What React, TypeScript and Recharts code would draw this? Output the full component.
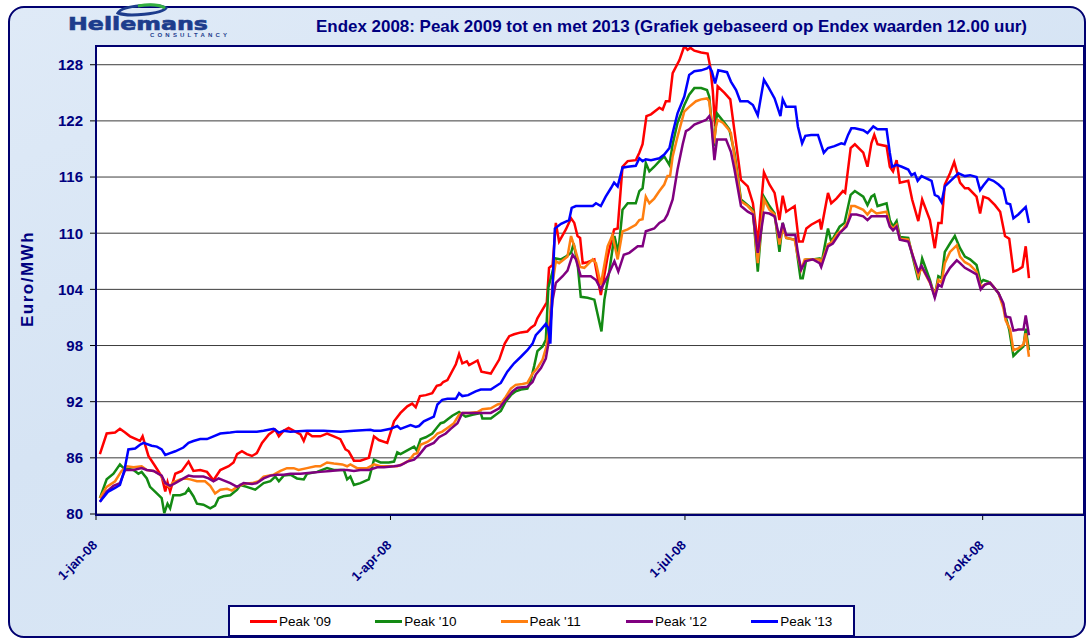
import React from "react";
import { LineChart, Line, XAxis, YAxis, CartesianGrid } from "recharts";

type Pt = [number, number];

// x = day of year 2008 (0 = 1 jan), y = Euro/MWh
const peak09: Pt[] = [[1.2,86.4],[3.3,88.6],[5.9,88.7],[7.4,89.1],[9.0,88.7],[10.5,88.3],[13.6,87.8],[14.4,88.3],[16.2,86.2],[18.3,85.1],[20.3,84.0],[21.4,82.4],[22.1,83.4],[22.9,82.4],[24.5,84.3],[26.5,84.6],[28.6,85.6],[30.1,84.6],[32.2,84.7],[34.3,84.5],[36.3,83.6],[38.4,84.7],[41.0,85.1],[42.5,85.5],[43.6,86.4],[45.1,86.7],[46.6,86.4],[48.2,86.2],[49.7,86.5],[51.3,87.6],[53.4,88.5],[55.4,89.0],[56.5,88.3],[58.0,88.9],[59.5,89.2],[61.6,88.8],[63.2,88.5],[64.2,87.8],[65.2,88.7],[66.8,88.3],[69.3,88.3],[71.4,88.6],[73.5,88.3],[75.5,88.0],[77.1,86.9],[78.1,86.7],[79.7,85.7],[81.7,85.7],[84.3,86.0],[85.9,88.3],[87.4,87.9],[90.0,87.6],[92.1,89.9],[94.1,90.8],[96.2,91.5],[97.7,91.8],[98.8,91.4],[100.1,92.6],[101.9,92.7],[103.9,92.9],[105.3,93.7],[106.5,93.8],[107.3,94.1],[108.6,94.3],[111.2,96.0],[112.2,97.1],[113.2,96.1],[114.6,96.3],[115.3,95.9],[117.9,96.4],[119.1,95.2],[122.0,95.0],[124.6,96.5],[126.3,98.2],[127.7,99.0],[129.2,99.2],[131.3,99.4],[133.3,99.5],[134.4,99.9],[135.6,100.2],[136.4,100.9],[139.3,102.6],[140.0,106.3],[141.1,106.6],[142.1,111.1],[143.1,109.1],[145.2,110.4],[146.8,111.6],[147.8,111.1],[148.8,109.7],[149.6,109.5],[150.4,106.8],[151.9,106.9],[154.0,107.2],[156.0,103.4],[158.1,107.5],[160.1,110.4],[161.2,110.5],[162.7,117.1],[164.3,117.7],[166.8,117.8],[167.9,118.6],[168.9,119.5],[170.1,122.5],[171.5,122.7],[174.1,123.4],[175.1,123.2],[176.1,124.1],[177.2,124.1],[178.2,127.1],[180.3,128.5],[181.8,130.0],[182.8,129.6],[183.7,129.8],[184.9,129.5],[187.0,129.3],[189.0,129.2],[189.8,127.8],[190.6,125.2],[191.3,121.4],[192.1,125.7],[194.2,125.0],[196.0,124.3],[197.3,120.9],[199.3,115.7],[201.4,115.0],[203.0,113.2],[204.5,108.9],[206.4,116.5],[208.1,115.2],[209.7,114.3],[211.2,111.4],[212.2,114.0],[213.3,112.3],[215.9,112.9],[217.2,109.1],[218.4,109.1],[219.5,110.5],[221.0,110.9],[223.6,111.4],[224.1,110.4],[226.2,114.3],[227.2,113.2],[228.8,113.7],[230.8,114.5],[231.5,114.3],[233.2,119.1],[234.5,119.5],[237.1,118.6],[238.4,117.1],[239.6,119.6],[240.5,120.5],[241.5,119.5],[244.3,119.3],[245.3,117.1],[246.3,116.6],[247.4,117.8],[248.4,115.4],[251.0,115.6],[252.2,113.6],[254.1,111.3],[255.3,113.6],[257.7,111.4],[259.2,108.4],[260.3,111.1],[261.3,111.1],[262.3,115.2],[263.9,116.4],[265.2,117.6],[267.0,115.4],[268.5,114.8],[269.6,114.8],[272.1,113.9],[273.2,112.1],[274.2,113.9],[275.8,113.7],[277.8,113.0],[279.4,112.3],[280.9,109.7],[282.2,109.4],[283.5,105.9],[285.0,106.1],[286.3,106.4],[287.3,108.6],[288.3,105.2]];

const peak10: Pt[] = [[1.2,81.7],[3.3,83.7],[5.4,84.3],[7.4,85.3],[8.5,84.9],[10.0,84.8],[11.6,84.7],[13.1,84.3],[14.1,84.5],[15.7,83.8],[16.7,82.9],[18.8,82.2],[20.3,81.7],[21.1,80.1],[22.1,81.1],[22.9,80.6],[23.9,82.0],[26.0,82.0],[27.6,82.2],[28.6,82.7],[30.1,81.9],[31.2,81.1],[33.2,81.0],[35.3,80.6],[36.8,80.9],[37.9,81.7],[39.4,81.9],[41.5,82.0],[43.6,82.6],[44.6,83.1],[46.6,82.9],[49.2,82.6],[51.8,83.3],[53.9,83.5],[55.4,84.0],[56.5,83.5],[58.0,84.1],[60.1,84.2],[62.1,83.8],[64.2,83.7],[65.2,84.3],[68.3,84.5],[71.4,84.9],[73.5,84.7],[76.6,84.7],[77.6,83.7],[78.6,84.0],[79.7,83.1],[81.7,83.3],[84.3,83.7],[85.9,85.8],[87.9,85.5],[90.5,85.5],[92.1,85.6],[93.1,86.6],[94.1,86.4],[96.2,86.8],[98.3,87.2],[99.1,86.8],[100.3,88.0],[101.9,88.2],[103.9,88.6],[105.5,89.3],[106.5,89.7],[107.5,89.8],[108.6,90.1],[110.1,90.5],[112.2,90.9],[114.2,90.4],[116.3,90.6],[118.9,90.8],[119.4,90.2],[122.0,90.2],[125.1,91.0],[126.6,92.0],[128.2,92.7],[129.7,93.1],[131.3,93.3],[133.3,93.4],[134.2,94.1],[135.4,95.8],[136.4,97.4],[138.0,97.9],[139.0,98.6],[139.8,104.2],[142.1,107.3],[143.7,107.2],[145.2,107.5],[146.8,107.9],[147.6,108.9],[148.8,106.8],[149.8,103.2],[151.9,103.1],[154.0,102.9],[156.2,99.5],[157.1,102.9],[158.6,105.9],[160.2,109.7],[161.4,107.9],[162.7,112.5],[164.3,113.2],[166.8,113.2],[167.9,114.5],[168.9,114.8],[169.9,117.5],[171.0,116.6],[172.5,117.1],[174.1,117.7],[175.6,118.2],[177.2,117.3],[178.2,119.5],[179.7,121.8],[181.8,123.7],[183.3,124.8],[184.9,125.5],[187.0,125.5],[188.8,125.3],[189.5,124.6],[190.9,119.3],[191.9,122.8],[194.2,121.8],[195.7,121.1],[197.3,118.6],[199.3,113.6],[201.4,113.0],[203.0,112.5],[204.5,105.9],[206.4,113.9],[208.1,112.9],[209.7,112.1],[211.2,108.0],[212.2,111.1],[213.3,109.5],[216.1,109.3],[216.9,107.2],[217.7,105.2],[218.4,105.2],[219.5,107.2],[221.5,107.2],[223.6,107.3],[224.1,106.6],[226.2,110.5],[227.2,109.1],[229.8,110.7],[231.3,111.1],[233.2,114.1],[234.5,114.5],[237.1,113.9],[238.4,113.0],[239.6,113.9],[240.5,114.1],[241.5,112.9],[244.3,113.2],[245.3,111.4],[246.3,110.7],[247.4,111.3],[248.4,109.6],[251.0,109.5],[252.2,107.7],[254.1,105.0],[255.3,107.3],[257.7,105.0],[259.2,103.2],[260.3,105.4],[261.3,105.2],[262.3,108.0],[263.9,108.9],[265.4,109.7],[267.0,108.4],[268.5,107.5],[270.1,107.2],[272.1,106.6],[273.4,104.7],[274.2,105.0],[275.8,104.8],[277.3,104.3],[278.9,103.6],[280.4,102.3],[281.1,101.1],[282.2,99.7],[283.5,96.9],[285.0,97.4],[286.6,97.9],[287.3,99.8],[288.3,97.5]];

const peak11: Pt[] = [[1.2,81.7],[3.3,82.9],[5.9,83.5],[7.9,84.6],[9.5,85.1],[11.6,85.0],[14.1,85.1],[15.7,84.7],[17.8,84.6],[19.8,84.2],[21.4,83.3],[22.7,82.9],[23.9,83.4],[26.0,83.7],[27.6,83.8],[29.1,83.7],[31.2,83.5],[33.7,83.5],[35.3,83.0],[36.8,82.2],[38.4,82.6],[40.5,82.7],[42.0,82.5],[43.6,82.9],[45.6,83.2],[48.2,83.3],[50.3,83.5],[51.8,84.0],[54.9,84.2],[57.0,84.6],[59.0,84.9],[61.1,84.9],[62.6,84.7],[65.2,84.9],[67.8,85.1],[69.3,85.1],[71.4,85.5],[73.5,85.4],[76.1,85.3],[77.6,85.1],[78.6,85.3],[80.7,84.9],[83.8,84.9],[85.9,85.3],[87.9,85.1],[90.0,85.1],[93.1,85.1],[95.2,85.4],[96.7,85.7],[98.3,86.4],[99.3,86.5],[100.3,87.4],[102.4,87.7],[104.4,88.2],[105.5,88.6],[107.0,88.8],[108.6,89.2],[110.6,89.7],[112.2,90.6],[113.2,90.8],[115.3,90.8],[117.9,90.9],[119.4,91.2],[122.0,91.3],[124.1,91.7],[125.1,91.8],[126.6,92.5],[128.2,93.4],[129.7,93.8],[131.8,93.9],[133.3,94.0],[134.9,95.0],[136.4,95.6],[138.0,96.5],[139.2,97.9],[140.0,100.0],[141.1,104.7],[142.1,107.0],[143.1,106.8],[145.7,107.5],[146.8,109.7],[147.8,108.6],[149.6,106.4],[150.9,106.3],[153.5,107.2],[154.5,106.8],[156.0,104.5],[158.1,108.6],[159.6,109.8],[161.2,107.2],[162.7,110.2],[164.3,110.4],[166.8,110.9],[167.9,111.4],[168.9,111.5],[169.9,113.9],[171.0,113.2],[172.5,113.7],[174.1,114.5],[175.6,115.2],[176.6,116.1],[177.4,116.1],[178.2,118.2],[179.7,120.3],[181.8,123.0],[183.3,123.5],[185.4,124.1],[187.0,124.3],[188.8,124.4],[189.5,124.1],[190.9,119.6],[191.6,121.4],[192.1,122.1],[193.7,121.8],[195.2,121.2],[196.2,120.7],[197.3,118.2],[199.3,113.4],[201.4,112.9],[203.0,112.3],[204.5,106.8],[206.4,113.6],[208.1,112.5],[209.7,112.0],[211.2,108.8],[212.2,110.7],[213.3,109.5],[215.9,109.3],[216.9,107.5],[217.9,106.1],[219.0,107.2],[221.5,107.2],[223.6,107.2],[224.1,106.8],[226.2,108.8],[227.2,109.0],[229.3,110.0],[230.8,110.4],[232.4,111.3],[233.4,112.9],[234.5,112.9],[237.1,112.5],[238.4,112.0],[239.6,112.5],[241.2,112.1],[244.3,112.3],[245.3,110.9],[246.3,110.5],[247.4,110.9],[248.4,109.4],[251.0,109.3],[252.5,107.5],[254.1,105.4],[255.1,106.4],[257.7,104.7],[259.2,103.4],[260.3,105.0],[261.3,104.7],[262.3,106.8],[263.9,108.0],[266.0,108.7],[267.0,107.5],[268.5,106.9],[270.1,106.6],[272.1,105.9],[273.4,104.3],[274.7,104.5],[276.3,104.7],[278.9,103.6],[280.4,102.0],[281.1,100.7],[282.5,99.7],[283.5,97.5],[285.0,97.7],[286.6,98.1],[287.3,99.3],[288.3,96.8]];

const peak12: Pt[] = [[1.2,81.3],[3.3,82.4],[5.4,83.0],[7.4,83.3],[9.0,84.7],[11.6,84.7],[14.1,84.9],[15.7,84.7],[17.8,84.6],[20.3,84.1],[21.4,83.3],[22.9,83.0],[24.5,83.3],[26.5,83.7],[28.6,84.1],[30.1,84.0],[33.2,84.0],[34.8,83.8],[36.3,83.5],[37.9,83.8],[39.4,83.6],[41.5,83.3],[43.6,82.9],[45.6,83.3],[48.2,83.2],[49.7,83.3],[51.8,83.8],[53.9,84.1],[55.9,84.2],[58.0,84.2],[60.1,84.3],[63.2,84.3],[66.3,84.4],[69.3,84.5],[72.4,84.6],[75.5,84.7],[77.6,84.7],[79.7,84.6],[81.7,84.7],[84.3,84.7],[86.9,85.0],[89.0,85.0],[92.1,85.1],[94.1,85.2],[96.2,85.6],[98.3,85.8],[99.8,86.3],[101.9,87.2],[104.4,87.6],[106.0,88.2],[108.1,88.6],[109.6,89.1],[111.7,89.7],[113.2,90.8],[115.8,90.8],[118.9,90.8],[122.0,90.8],[124.6,91.3],[126.6,92.2],[128.7,93.1],[130.2,93.5],[133.3,93.6],[134.9,94.1],[135.9,94.9],[137.5,95.6],[139.0,96.6],[140.0,98.6],[141.1,102.9],[142.1,104.7],[144.2,105.4],[145.7,106.0],[147.3,107.7],[148.3,107.2],[149.8,105.4],[152.9,105.4],[154.5,105.0],[156.0,104.0],[158.1,105.4],[160.2,107.0],[161.4,105.9],[163.1,107.7],[164.8,107.9],[167.4,108.6],[168.9,108.6],[169.9,110.2],[172.5,110.5],[174.1,111.1],[175.6,111.4],[176.6,112.0],[178.2,113.6],[179.7,116.8],[181.3,119.5],[182.3,120.9],[183.3,121.1],[184.9,121.6],[187.0,121.9],[188.5,122.1],[189.5,122.5],[190.1,121.9],[191.1,117.8],[191.9,120.0],[194.7,120.0],[196.2,118.7],[197.3,116.8],[199.3,112.9],[201.4,112.3],[203.0,112.0],[204.5,107.9],[206.4,112.2],[208.1,112.1],[209.7,111.8],[211.2,109.5],[212.2,111.1],[213.3,109.8],[216.1,109.8],[216.9,107.9],[217.9,106.1],[219.2,107.0],[221.5,107.2],[223.6,106.8],[224.1,106.4],[226.2,108.6],[227.7,108.9],[229.8,110.0],[231.9,110.7],[233.4,112.0],[235.0,112.0],[237.1,111.8],[238.4,111.4],[239.6,111.8],[241.2,111.8],[244.3,111.8],[245.3,110.7],[246.3,110.3],[247.4,110.7],[248.4,109.3],[251.0,109.1],[252.5,107.5],[254.1,105.9],[255.1,106.5],[257.7,104.8],[259.2,103.1],[260.3,104.5],[261.3,104.3],[262.3,105.4],[263.9,106.3],[266.0,107.1],[267.0,106.8],[268.5,106.3],[270.1,106.0],[272.1,105.6],[273.4,104.0],[274.7,104.5],[276.3,104.7],[278.9,103.6],[280.4,102.5],[281.1,101.1],[282.5,101.0],[283.5,99.6],[285.0,99.7],[286.6,99.7],[287.3,101.2],[288.3,99.1]];

const peak13: Pt[] = [[1.2,81.3],[3.8,82.4],[5.9,82.8],[7.4,83.1],[8.8,84.7],[10.0,86.9],[12.1,87.0],[13.6,87.4],[14.7,87.6],[17.2,87.3],[18.8,87.2],[20.3,86.9],[21.4,86.3],[22.9,86.5],[24.5,86.7],[27.0,87.1],[28.6,87.6],[30.1,87.8],[32.2,88.0],[34.3,88.0],[36.3,88.3],[38.4,88.6],[41.5,88.7],[43.6,88.8],[46.6,88.8],[49.7,88.8],[51.8,88.9],[54.9,89.1],[56.5,88.7],[58.0,88.9],[60.1,88.8],[65.2,88.9],[70.4,88.9],[75.5,88.8],[79.7,88.9],[84.8,89.0],[85.9,88.9],[88.0,88.9],[91.0,89.1],[93.1,89.4],[94.1,89.1],[97.2,89.5],[98.8,89.3],[99.8,89.4],[101.3,89.9],[104.4,90.4],[105.5,91.7],[107.0,92.2],[108.6,92.3],[111.2,92.3],[112.2,92.9],[113.2,92.6],[115.0,92.7],[117.3,93.1],[118.9,93.3],[122.0,93.3],[125.1,94.0],[127.1,95.2],[129.2,96.1],[131.3,96.8],[133.3,97.5],[134.9,98.2],[135.9,99.1],[137.5,99.7],[139.0,100.3],[139.7,99.9],[140.4,98.2],[141.8,110.5],[143.7,111.0],[146.2,111.4],[147.0,112.7],[148.3,112.9],[153.5,112.9],[154.5,113.2],[156.0,112.9],[157.5,113.9],[159.1,114.8],[160.1,115.4],[161.2,115.0],[162.7,117.0],[164.3,117.1],[166.8,117.2],[167.9,118.0],[168.9,117.7],[169.9,117.9],[171.5,117.8],[174.1,118.0],[175.6,118.4],[177.2,119.1],[178.2,120.7],[179.7,122.8],[181.8,124.6],[183.3,126.9],[184.9,127.3],[187.0,127.4],[188.8,127.6],[189.5,127.8],[190.3,127.3],[191.3,126.0],[192.3,127.4],[195.0,127.2],[196.2,126.2],[197.8,125.3],[199.1,124.1],[201.4,124.1],[203.0,123.7],[204.5,122.6],[206.4,126.4],[207.6,125.7],[209.7,124.4],[211.5,122.5],[212.2,124.3],[213.3,123.5],[216.1,123.5],[216.9,121.4],[218.2,119.6],[219.2,120.4],[221.0,120.5],[223.1,120.5],[224.9,118.6],[226.2,119.1],[228.2,119.3],[230.3,119.6],[231.3,119.5],[232.4,120.5],[233.4,121.2],[234.5,121.2],[237.1,121.0],[238.4,120.7],[240.2,121.4],[241.5,121.1],[244.3,121.1],[245.3,118.6],[246.0,117.1],[247.4,117.3],[249.0,117.1],[251.0,116.8],[252.0,116.2],[253.0,116.4],[253.9,115.6],[255.1,116.1],[258.2,115.6],[259.2,114.1],[260.3,113.9],[261.3,113.3],[262.3,115.0],[264.4,115.7],[266.5,116.4],[268.5,116.1],[270.1,116.2],[272.1,116.0],[273.2,114.6],[274.2,115.1],[275.8,115.8],[277.3,115.6],[278.9,115.2],[280.4,114.7],[281.4,113.2],[282.5,113.1],[283.5,111.6],[285.0,112.0],[287.3,112.8],[288.3,111.1]];

const SERIES_NAMES = ["Peak '09", "Peak '10", "Peak '11", "Peak '12", "Peak '13"];
const SERIES_COLORS = ["#ff0000", "#138a13", "#ff7f10", "#800080", "#0000ff"];
const SERIES_POINTS = [peak09, peak10, peak11, peak12, peak13];

const X_TICKS = [0, 91, 182, 274];
const X_LABELS = ["1-jan-08", "1-apr-08", "1-jul-08", "1-okt-08"];
const Y_TICKS = [80, 86, 92, 98, 104, 110, 116, 122, 128];

const TITLE = "Endex 2008: Peak 2009 tot en met 2013 (Grafiek gebaseerd op Endex waarden 12.00 uur)";
const Y_LABEL = "Euro/MWh";

const FONT = "'Liberation Sans', Arial, sans-serif";
const NAVY = "#000080";

const XTick = (props: any) => {
  const { x, y, payload } = props;
  const i = X_TICKS.indexOf(payload.value);
  const ax = x + 2;
  const ay = y + 24;
  return (
    <text
      x={ax}
      y={ay}
      transform={`rotate(-45 ${ax} ${ay})`}
      textAnchor="end"
      fill={NAVY}
      fontSize={13}
      fontWeight={700}
      fontFamily={FONT}
    >
      {X_LABELS[i]}
    </text>
  );
};

export default function App() {
  return (
    <div style={{ position: "absolute", left: 0, top: 0, width: 1088, height: 640, overflow: "hidden", fontFamily: FONT }}>
      <div
        style={{
          position: "absolute",
          left: 8,
          top: 6,
          width: 1078,
          height: 632,
          boxSizing: "border-box",
          border: "2.5px solid #000070",
          borderRadius: 16,
          background: "linear-gradient(160deg, #dfeaf7 0%, #d6e4f4 45%, #dbe8f6 100%)",
        }}
      />
      <div style={{ position: "absolute", left: 0, top: 0 }}>
        <LineChart width={1088} height={640} margin={{ top: 46, right: 5, bottom: 0, left: 0 }}>
          <CartesianGrid vertical={false} stroke="#3c3c3c" strokeWidth={1} fill="#ffffff" fillOpacity={1} />
          <XAxis
            type="number"
            dataKey="d"
            domain={[0, 305]}
            ticks={X_TICKS}
            interval={0}
            height={126}
            axisLine={false}
            tickLine={{ stroke: "#000" }}
            tickSize={6}
            tick={<XTick />}
            allowDataOverflow
          />
          <YAxis
            type="number"
            domain={[80, 130]}
            ticks={Y_TICKS}
            interval={0}
            width={96}
            axisLine={false}
            tickLine={{ stroke: "#000" }}
            tickSize={6}
            tickMargin={7}
            tick={{ fill: NAVY, fontSize: 15, fontWeight: 700, fontFamily: FONT }}
            allowDataOverflow
          />
          {SERIES_POINTS.map((pts, i) => (
            <Line
              key={SERIES_NAMES[i]}
              name={SERIES_NAMES[i]}
              data={pts.map(([d, v]) => ({ d, v }))}
              dataKey="v"
              type="linear"
              stroke={SERIES_COLORS[i]}
              strokeWidth={2.5}
              dot={false}
              activeDot={false}
              isAnimationActive={false}
            />
          ))}
        </LineChart>
      </div>
      <div
        style={{
          position: "absolute",
          left: 95,
          top: 45,
          width: 990,
          height: 471,
          boxSizing: "border-box",
          border: "2px solid #000070",
          pointerEvents: "none",
        }}
      />
      <svg width={1088} height={640} style={{ position: "absolute", left: 0, top: 0, pointerEvents: "none" }}>
        <path d="M118 13 C 122 5, 158 3, 166 8 C 162 14, 128 17, 118 13 Z" fill="none" stroke="#1d3c8c" strokeWidth={3} />
        <path d="M138 6 C 150 4, 160 5, 165 8" fill="none" stroke="#35b040" strokeWidth={3} />
        <text x={68} y={30} fontSize={17} fontWeight={900} fill="#1d3c8c" stroke="#1d3c8c" strokeWidth={0.6} fontFamily="'DejaVu Sans', sans-serif" textLength={140} lengthAdjust="spacingAndGlyphs">
          Hellemans
        </text>
        <text x={150} y={37} fontSize={6} fontWeight={700} fill="#1d3c8c" fontFamily={FONT} textLength={77} lengthAdjust="spacing">
          CONSULTANCY
        </text>
        <text x={316} y={32} fontSize={17} fontWeight={700} fill={NAVY} fontFamily={FONT} textLength={711} lengthAdjust="spacingAndGlyphs">
          {TITLE}
        </text>
        <text
          transform="translate(33,279) rotate(-90)"
          textAnchor="middle"
          fontSize={17}
          fontWeight={700}
          fill={NAVY}
          fontFamily={FONT}
          letterSpacing={1.5}
        >
          {Y_LABEL}
        </text>
      </svg>
      <div
        style={{
          position: "absolute",
          left: 228,
          top: 605,
          width: 627,
          height: 32,
          boxSizing: "border-box",
          border: "2px solid #000070",
          background: "#ffffff",
          display: "flex",
          alignItems: "center",
          paddingLeft: 20,
        }}
      >
        {SERIES_NAMES.map((n, i) => (
          <div key={n} style={{ width: 125.3, display: "flex", alignItems: "center", flex: "none" }}>
            <span style={{ display: "inline-block", width: 27, height: 3, background: SERIES_COLORS[i], marginRight: 2 }} />
            <span style={{ fontSize: 13.5, color: "#000", fontFamily: FONT }}>{n}</span>
          </div>
        ))}
      </div>
    </div>
  );
}
